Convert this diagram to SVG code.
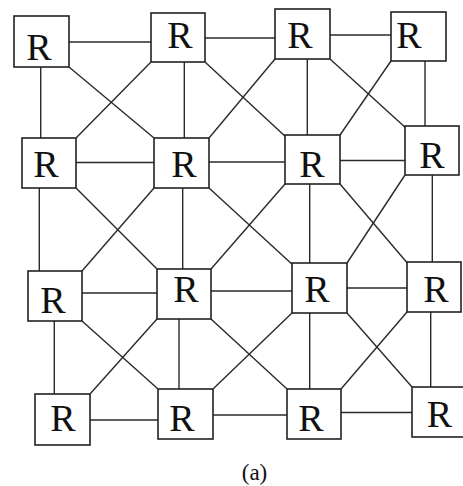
<svg xmlns="http://www.w3.org/2000/svg" width="463" height="486" viewBox="0 0 463 486">
<style>
.b{fill:#fff;stroke:#222;stroke-width:1.6}
.l{stroke:#2a2a2a;stroke-width:1.4;fill:none}
.t{font-family:"Liberation Serif","Times New Roman",serif;font-size:38px;fill:#111;text-anchor:middle}
.cap{font-family:"Liberation Serif","Times New Roman",serif;font-size:23px;fill:#111;text-anchor:middle}
</style>
<rect width="463" height="486" fill="#fff"/>
<g id="connectors" class="l">
<line x1="69" y1="42" x2="151" y2="42"/>
<line x1="205" y1="38" x2="275" y2="38"/>
<line x1="330" y1="35" x2="391" y2="35"/>
<line x1="76" y1="162.5" x2="154" y2="162.5"/>
<line x1="209" y1="162" x2="285" y2="162"/>
<line x1="340" y1="160.5" x2="405" y2="160.5"/>
<line x1="82" y1="293" x2="157" y2="293"/>
<line x1="211" y1="291" x2="292" y2="291"/>
<line x1="347" y1="288" x2="407" y2="288"/>
<line x1="87" y1="420" x2="162" y2="420"/>
<line x1="213" y1="415" x2="287" y2="415"/>
<line x1="341" y1="412.5" x2="412" y2="412.5"/>
<line x1="40.7" y1="67" x2="40.7" y2="138"/>
<line x1="39.3" y1="188" x2="39.3" y2="271"/>
<line x1="54.3" y1="321" x2="54.3" y2="394"/>
<line x1="184.3" y1="62" x2="184.3" y2="138"/>
<line x1="182.7" y1="188" x2="182.7" y2="269"/>
<line x1="179" y1="319" x2="179" y2="389"/>
<line x1="307.3" y1="59" x2="307.3" y2="135"/>
<line x1="309.7" y1="184" x2="309.7" y2="263"/>
<line x1="309.7" y1="313" x2="309.7" y2="389"/>
<line x1="425" y1="61" x2="425" y2="126"/>
<line x1="432.3" y1="175" x2="432.3" y2="262"/>
<line x1="430.7" y1="312" x2="430.7" y2="387"/>
<line x1="69" y1="67" x2="154" y2="138"/>
<line x1="151" y1="62" x2="76" y2="138"/>
<line x1="205" y1="62" x2="287" y2="138"/>
<line x1="275" y1="59" x2="209" y2="138"/>
<line x1="330" y1="59" x2="407" y2="129"/>
<line x1="391" y1="61" x2="340" y2="135"/>
<line x1="76" y1="188" x2="157" y2="269"/>
<line x1="154" y1="188" x2="82" y2="271"/>
<line x1="209" y1="188" x2="294" y2="266"/>
<line x1="285" y1="184" x2="211" y2="269"/>
<line x1="340" y1="184" x2="409" y2="265"/>
<line x1="405" y1="175" x2="347" y2="263"/>
<line x1="82" y1="321" x2="158" y2="389"/>
<line x1="157" y1="319" x2="90" y2="394"/>
<line x1="211" y1="319" x2="287" y2="389"/>
<line x1="292" y1="313" x2="213" y2="389"/>
<line x1="347" y1="313" x2="412" y2="387"/>
<line x1="407" y1="312" x2="341" y2="389"/>
</g>
<g id="n00"><rect class="b" x="14" y="16" width="55" height="51"/><text class="t" x="39" y="60">R</text></g>
<g id="n01"><rect class="b" x="151" y="13" width="54" height="49"/><text class="t" x="180" y="48">R</text></g>
<g id="n02"><rect class="b" x="275" y="9" width="55" height="50"/><text class="t" x="300" y="48">R</text></g>
<g id="n03"><rect class="b" x="391" y="12" width="55" height="49"/><text class="t" x="409" y="48">R</text></g>
<g id="n10"><rect class="b" x="22" y="138" width="54" height="50"/><text class="t" x="46" y="176.5">R</text></g>
<g id="n11"><rect class="b" x="154" y="138" width="55" height="50"/><text class="t" x="184" y="176.5">R</text></g>
<g id="n12"><rect class="b" x="285" y="135" width="55" height="49"/><text class="t" x="312" y="176.5">R</text></g>
<g id="n13"><rect class="b" x="405" y="126" width="54" height="49"/><text class="t" x="432" y="168">R</text></g>
<g id="n20"><rect class="b" x="28" y="271" width="54" height="50"/><text class="t" x="53" y="313">R</text></g>
<g id="n21"><rect class="b" x="157" y="269" width="54" height="50"/><text class="t" x="186" y="301.5">R</text></g>
<g id="n22"><rect class="b" x="292" y="263" width="55" height="50"/><text class="t" x="317" y="301.5">R</text></g>
<g id="n23"><rect class="b" x="407" y="262" width="54" height="50"/><text class="t" x="436" y="301.5">R</text></g>
<g id="n30"><rect class="b" x="35" y="394" width="55" height="51"/><text class="t" x="63" y="430.5">R</text></g>
<g id="n31"><rect class="b" x="158" y="389" width="55" height="50"/><text class="t" x="182" y="430.5">R</text></g>
<g id="n32"><rect class="b" x="287" y="389" width="54" height="50"/><text class="t" x="311" y="430.5">R</text></g>
<g id="n33"><rect class="b" x="412" y="387" width="53" height="50"/><text class="t" x="439.5" y="426.5">R</text></g>
<text class="cap" x="254.5" y="480">(a)</text>
</svg>
